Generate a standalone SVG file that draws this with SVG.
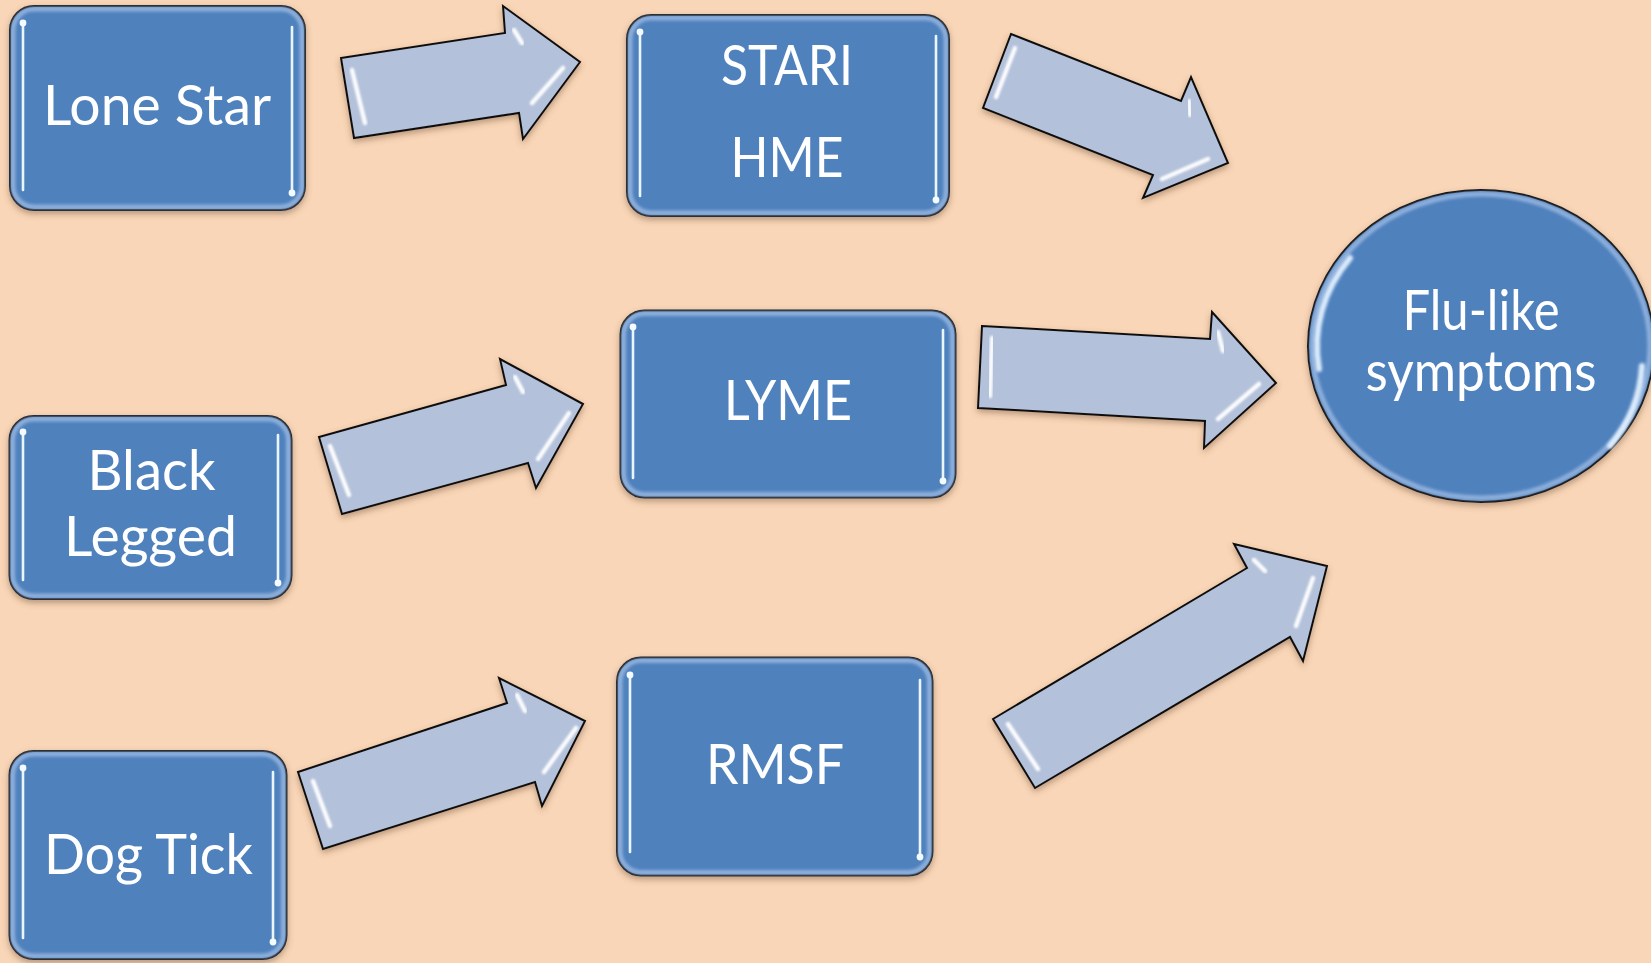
<svg xmlns="http://www.w3.org/2000/svg" width="1651" height="963" viewBox="0 0 1651 963">
<defs>
<filter id="shadow" x="-10%" y="-10%" width="120%" height="125%">
<feDropShadow dx="0" dy="3" stdDeviation="3" flood-color="#6b4a30" flood-opacity="0.45"/>
</filter>
<filter id="soft" x="-20%" y="-20%" width="140%" height="140%">
<feGaussianBlur stdDeviation="1.6"/>
</filter>
<filter id="soft2" x="-20%" y="-20%" width="140%" height="140%">
<feGaussianBlur stdDeviation="1"/>
</filter>
</defs>
<style>
.bg{fill:#F9D6B7}
.box{fill:#4F81BD;stroke:#111;stroke-width:2}
.inner{fill:none;stroke:#A3BFE6;stroke-width:5;opacity:0.75;filter:url(#soft)}
.hl{stroke:#9CCBF5;stroke-width:7;stroke-linecap:round;fill:none;opacity:1;filter:url(#soft2)}
.hlc{stroke:#EAF6FF;stroke-width:2.6;stroke-linecap:round;fill:none}
.dot{fill:#F4FBFF}
.arrow{fill:#B3C1DA;stroke:#111;stroke-width:2;stroke-linejoin:miter}
.ahl{stroke:#FFFFFF;stroke-width:4.5;stroke-linecap:round;fill:none;opacity:0.95;filter:url(#soft2)}
.lbl{font-family:Lato,"Open Sans","Liberation Sans",sans-serif;font-size:56px;fill:#FFFFFF;text-anchor:middle}
.chl{stroke:#E2F1FF;stroke-width:6;stroke-linecap:round;fill:none;opacity:0.95;filter:url(#soft)}
</style>
<rect class="bg" x="0" y="0" width="1651" height="963"/>

<g id="connectors">
<g id="arrow-lonestar-stari">
<polygon class="arrow" filter="url(#shadow)" points="341,58 505,33 503,6 580,62 523,139 519,113 354,138"/>
<line class="ahl" x1="352" y1="70" x2="365" y2="123"/>
<line class="ahl" x1="563" y1="68" x2="532" y2="103"/>
<line class="ahl" x1="514" y1="30" x2="522" y2="43"/>
</g>
<g id="arrow-stari-flu">
<polygon class="arrow" filter="url(#shadow)" points="1011,34 1181,101 1191,77 1228,163 1143,198 1153,175 983,108"/>
<line class="ahl" x1="1015" y1="48" x2="996" y2="97"/>
<line class="ahl" x1="1208" y1="159" x2="1162" y2="179"/>
<line class="ahl" x1="1189" y1="101" x2="1190" y2="115"/>
</g>
<g id="arrow-black-lyme">
<polygon class="arrow" filter="url(#shadow)" points="319,437 506,385 500,359 583,404 536,488 528,463 342,514"/>
<line class="ahl" x1="330" y1="446" x2="349" y2="495"/>
<line class="ahl" x1="569" y1="413" x2="538" y2="459"/>
<line class="ahl" x1="515" y1="377" x2="523" y2="392"/>
</g>
<g id="arrow-lyme-flu">
<polygon class="arrow" filter="url(#shadow)" points="982,326 1210,339 1212,312 1276,383 1204,448 1205,421 978,408"/>
<line class="ahl" x1="992" y1="338" x2="990" y2="396"/>
<line class="ahl" x1="1259" y1="384" x2="1218" y2="419"/>
<line class="ahl" x1="1218" y1="332" x2="1223" y2="351"/>
</g>
<g id="arrow-dog-rmsf">
<polygon class="arrow" filter="url(#shadow)" points="298,772 507,703 499,678 585,721 542,806 535,782 323,849"/>
<line class="ahl" x1="313" y1="781" x2="330" y2="826"/>
<line class="ahl" x1="576" y1="728" x2="544" y2="772"/>
<line class="ahl" x1="517" y1="695" x2="525" y2="711"/>
</g>
<g id="arrow-rmsf-flu">
<polygon class="arrow" filter="url(#shadow)" points="993,719 1247,568 1234,544 1327,566 1303,661 1290,637 1035,788"/>
<line class="ahl" x1="1008" y1="724" x2="1038" y2="769"/>
<line class="ahl" x1="1313" y1="578" x2="1296" y2="626"/>
<line class="ahl" x1="1254" y1="560" x2="1265" y2="571"/>
</g>
</g>

<g id="node-lonestar">
<rect class="box" filter="url(#shadow)" x="10" y="6" width="295" height="204" rx="24"/>
<rect class="inner" x="13" y="9" width="289" height="198" rx="21"/>
<line class="hl" x1="23" y1="23" x2="23" y2="190"/>
<line class="hlc" x1="23" y1="23" x2="23" y2="190"/>
<circle class="dot" cx="23" cy="23" r="3.4"/>
<line class="hl" x1="292" y1="27" x2="292" y2="193"/>
<line class="hlc" x1="292" y1="27" x2="292" y2="193"/>
<circle class="dot" cx="292" cy="193" r="3.4"/>
<text class="lbl" x="157" y="125" textLength="228" lengthAdjust="spacingAndGlyphs">Lone Star</text>
</g>

<g id="node-blacklegged">
<rect class="box" filter="url(#shadow)" x="9.5" y="416" width="282" height="183" rx="24"/>
<rect class="inner" x="12.5" y="419" width="276" height="177" rx="21"/>
<line class="hl" x1="23" y1="432" x2="23" y2="580"/>
<line class="hlc" x1="23" y1="432" x2="23" y2="580"/>
<circle class="dot" cx="23" cy="432" r="3.4"/>
<line class="hl" x1="278" y1="435" x2="278" y2="583"/>
<line class="hlc" x1="278" y1="435" x2="278" y2="583"/>
<circle class="dot" cx="278" cy="583" r="3.4"/>
<text class="lbl" x="151.5" y="490" textLength="128" lengthAdjust="spacingAndGlyphs">Black</text>
<text class="lbl" x="150.5" y="556" textLength="173" lengthAdjust="spacingAndGlyphs">Legged</text>
</g>

<g id="node-dogtick">
<rect class="box" filter="url(#shadow)" x="9.5" y="751" width="277" height="208" rx="24"/>
<rect class="inner" x="12.5" y="754" width="271" height="202" rx="21"/>
<line class="hl" x1="23" y1="768" x2="23" y2="938"/>
<line class="hlc" x1="23" y1="768" x2="23" y2="938"/>
<circle class="dot" cx="23" cy="768" r="3.4"/>
<line class="hl" x1="273" y1="772" x2="273" y2="942"/>
<line class="hlc" x1="273" y1="772" x2="273" y2="942"/>
<circle class="dot" cx="273" cy="942" r="3.4"/>
<text class="lbl" x="148.5" y="874" textLength="209" lengthAdjust="spacingAndGlyphs">Dog Tick</text>
</g>

<g id="node-stari">
<rect class="box" filter="url(#shadow)" x="627" y="15" width="322" height="201" rx="24"/>
<rect class="inner" x="630" y="18" width="316" height="195" rx="21"/>
<line class="hl" x1="640" y1="32" x2="640" y2="196"/>
<line class="hlc" x1="640" y1="32" x2="640" y2="196"/>
<circle class="dot" cx="640" cy="32" r="3.4"/>
<line class="hl" x1="936" y1="36" x2="936" y2="200"/>
<line class="hlc" x1="936" y1="36" x2="936" y2="200"/>
<circle class="dot" cx="936" cy="200" r="3.4"/>
<text class="lbl" x="787" y="85" textLength="132" lengthAdjust="spacingAndGlyphs">STARI</text>
<text class="lbl" x="787" y="177" textLength="113" lengthAdjust="spacingAndGlyphs">HME</text>
</g>

<g id="node-lyme">
<rect class="box" filter="url(#shadow)" x="620.5" y="310.5" width="335" height="187" rx="24"/>
<rect class="inner" x="623.5" y="313.5" width="329" height="181" rx="21"/>
<line class="hl" x1="633" y1="327" x2="633" y2="478"/>
<line class="hlc" x1="633" y1="327" x2="633" y2="478"/>
<circle class="dot" cx="633" cy="327" r="3.4"/>
<line class="hl" x1="943" y1="330" x2="943" y2="481"/>
<line class="hlc" x1="943" y1="330" x2="943" y2="481"/>
<circle class="dot" cx="943" cy="481" r="3.4"/>
<text class="lbl" x="788" y="420" textLength="128" lengthAdjust="spacingAndGlyphs">LYME</text>
</g>

<g id="node-rmsf">
<rect class="box" filter="url(#shadow)" x="617" y="657.5" width="315.5" height="218" rx="24"/>
<rect class="inner" x="620" y="660.5" width="309.5" height="212" rx="21"/>
<line class="hl" x1="630" y1="675" x2="630" y2="852"/>
<line class="hlc" x1="630" y1="675" x2="630" y2="852"/>
<circle class="dot" cx="630" cy="675" r="3.4"/>
<line class="hl" x1="920" y1="680" x2="920" y2="857"/>
<line class="hlc" x1="920" y1="680" x2="920" y2="857"/>
<circle class="dot" cx="920" cy="857" r="3.4"/>
<text class="lbl" x="775" y="784" textLength="138" lengthAdjust="spacingAndGlyphs">RMSF</text>
</g>

<g id="node-flu">
<ellipse class="box" filter="url(#shadow)" cx="1481" cy="346" rx="173" ry="156"/>
<ellipse class="inner" cx="1481" cy="346" rx="169" ry="152"/>
<path class="chl" d="M 1319 369 A 163 146 0 0 1 1350 258"/>
<path class="chl" d="M 1642 366 A 163 146 0 0 1 1610 446"/>
<text class="lbl" x="1481" y="330" textLength="157" lengthAdjust="spacingAndGlyphs">Flu-like</text>
<text class="lbl" x="1481" y="391" textLength="231" lengthAdjust="spacingAndGlyphs">symptoms</text>
</g>
</svg>
